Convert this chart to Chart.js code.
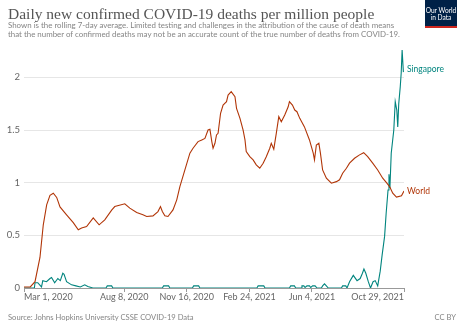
<!DOCTYPE html>
<html>
<head>
<meta charset="utf-8">
<script src="https://cdn.jsdelivr.net/npm/chart.js@4.4.0/dist/chart.umd.min.js"></script>
<style>
  html, body { margin: 0; padding: 0; background: #fff; }
  #wrap { position: relative; width: 466px; height: 329px; overflow: hidden; font-family: Lato, sans-serif; }
  #c { position: absolute; left: 0; top: 0; }
  .title { position: absolute; left: 8px; top: 5px; font-family: "Liberation Serif", serif; font-size: 15.5px; color: #555; white-space: nowrap; }
  .sub { position: absolute; left: 8px; top: 21px; font-size: 7.9px; line-height: 9px; color: #858585; white-space: nowrap; }
  .logo { position: absolute; left: 425px; top: 0; width: 32px; background: #002147; border-bottom: 2px solid #ce261e;
          color: #fff; font-size: 6.6px; line-height: 6.8px; text-align: center; padding-top: 7px; box-sizing: border-box; height: 28px; }
  .src { position: absolute; left: 8px; top: 312px; font-size: 7.6px; color: #858585; white-space: nowrap; }
  .cc { position: absolute; right: 10px; top: 312px; font-size: 7.6px; color: #858585; }
</style>
</head>
<body>
<div id="wrap">
  <canvas id="c" width="466" height="329"></canvas>
  <div class="title">Daily new confirmed COVID-19 deaths per million people</div>
  <div class="sub">Shown is the rolling 7-day average. Limited testing and challenges in the attribution of the cause of death means<br>that the number of confirmed deaths may not be an accurate count of the true number of deaths from COVID-19.</div>
  <div class="logo">Our World<br>in Data</div>
  <div class="src">Source: Johns Hopkins University CSSE COVID-19 Data</div>
  <div class="cc">CC BY</div>
</div>
<script>
// days counted from Mar 1, 2020
var START = Date.UTC(2020, 2, 1);
var xTicks = [0, 160, 260, 360, 460, 607];
var yTicks = [0, 0.5, 1, 1.5, 2];

var worldDays = [0, 10, 17.6, 25.5, 30.8, 36.2, 41.5, 46.8, 52.2, 57.5, 68, 78.7, 86.7, 92, 100, 110.6,
    120, 129, 140, 145, 161, 169, 180, 190, 196, 206, 214, 218, 221, 225, 230, 238, 244, 249, 257, 265,
    270, 278, 284, 289, 294, 297, 300, 302, 305, 307.5, 310, 314, 318, 323.5, 326, 331, 337, 339.5, 345,
    350, 353, 355, 360.7, 366, 371, 376.6, 382, 387, 392.6, 395, 399, 403, 407, 411, 416.5, 422, 424,
    428.8, 432.5, 436, 440.5, 448, 456, 462, 464, 467, 471, 473.5, 477, 483, 491, 499, 504, 509, 515,
    520, 528, 536, 542.6, 549, 557, 565, 573, 579, 584, 589, 595, 603, 607];
var worldVals = [0.01, 0.01, 0.06, 0.29, 0.60, 0.79, 0.88, 0.90, 0.86, 0.77, 0.695, 0.62, 0.553, 0.57, 0.584, 0.665,
    0.60, 0.647, 0.74, 0.773, 0.80, 0.758, 0.717, 0.695, 0.679, 0.685, 0.726, 0.773, 0.726, 0.685, 0.679, 0.742, 0.837, 0.963, 1.121, 1.28,
    1.327, 1.39, 1.406, 1.42, 1.50, 1.507, 1.39, 1.327, 1.374, 1.453, 1.469, 1.659, 1.737, 1.769, 1.832, 1.864, 1.816, 1.706, 1.611,
    1.50, 1.406, 1.295, 1.247, 1.216, 1.169, 1.137, 1.185, 1.247, 1.327, 1.374, 1.318, 1.469, 1.627, 1.579, 1.643, 1.721, 1.769,
    1.737, 1.69, 1.674, 1.611, 1.53, 1.406, 1.28, 1.216, 1.358, 1.374, 1.28, 1.121, 1.043, 0.995, 1.01, 1.027, 1.09, 1.137,
    1.185, 1.232, 1.264, 1.285, 1.247, 1.185, 1.121, 1.043, 1.001, 0.963, 0.90, 0.863, 0.875, 0.92];

var sgDays = [0, 16.6, 17.6, 22, 25, 28, 30, 36, 41.5, 44, 49, 54, 58, 62, 64, 68, 76, 83, 90, 97, 102, 110,
    131, 133, 140, 142, 221, 223, 231, 233, 269, 271, 279, 281, 372, 374, 383, 385, 424, 426, 432, 434,
    443, 444, 447, 449, 452, 456, 458, 461, 465, 468, 475, 477, 480, 483, 486, 507, 509, 514, 516,
    520, 526, 532, 537, 540.6, 543, 546, 550, 553.5, 557.6, 561, 565, 569, 572, 576, 578.5, 581.5, 583,
    584.5, 586.6, 590.7, 593, 595.5, 597, 598.6, 601, 602.5, 604, 606];
var sgVals = [0, 0, 0.05, 0.05, 0.03, 0.01, 0.07, 0.06, 0.09, 0.10, 0.05, 0.09, 0.07, 0.14, 0.13, 0.06, 0.03, 0.02, 0.01, 0.03, 0.015, 0,
    0, 0.02, 0.02, 0, 0, 0.02, 0.02, 0, 0, 0.02, 0.02, 0, 0, 0.02, 0.02, 0, 0, 0.02, 0.02, 0,
    0, 0.02, 0.02, 0.005, 0.02, 0.02, 0.005, 0.02, 0.02, 0, 0, 0.02, 0.04, 0.02, 0, 0, 0.02, 0.02, 0,
    0.06, 0.12, 0.07, 0.09, 0.14, 0.18, 0.14, 0.06, 0, 0.06, 0.07, 0.02, 0.16, 0.31, 0.49, 0.71, 0.93, 1.08,
    0.95, 1.28, 1.5, 1.77, 1.69, 1.53, 1.75, 1.91, 2.04, 2.26, 2.05];

var worldColor = '#b13507';
var sgColor = '#00847e';
var months = ['Jan', 'Feb', 'Mar', 'Apr', 'May', 'Jun', 'Jul', 'Aug', 'Sep', 'Oct', 'Nov', 'Dec'];

function dayLabel(d) {
    var dt = new Date(START + d * 86400000);
    return months[dt.getUTCMonth()] + ' ' + dt.getUTCDate() + ', ' + dt.getUTCFullYear();
}

function toPoints(days, vals) {
    return days.map(function(d, i) { return {x: d, y: vals[i]}; });
}

// x labels: first left-aligned, last right-aligned; line names at series end
var labelPlugin = {
    id: 'owidLabels',
    afterDraw: function(chart) {
        var ctx = chart.ctx;
        var xs = chart.scales.x;
        var ys = chart.scales.y;
        ctx.save();
        ctx.font = '9px Lato';
        ctx.fillStyle = '#666';
        ctx.textBaseline = 'middle';
        xTicks.forEach(function(t, i) {
            ctx.textAlign = i === 0 ? 'left' : (i === xTicks.length - 1 ? 'right' : 'center');
            ctx.fillText(dayLabel(t), xs.getPixelForValue(t), 297.5);
        });
        ctx.font = '8.5px Lato';
        ctx.textAlign = 'left';
        var x0 = xs.getPixelForValue(607) + 3;
        ctx.fillStyle = sgColor;
        ctx.fillText('Singapore', x0, ys.getPixelForValue(sgVals[sgVals.length - 1]) - 3);
        ctx.fillStyle = worldColor;
        ctx.fillText('World', x0, ys.getPixelForValue(worldVals[worldVals.length - 1]));
        ctx.restore();
    }
};

new Chart(document.getElementById('c'), {
    type: 'line',
    data: {
        datasets: [{
            label: 'World',
            data: toPoints(worldDays, worldVals),
            borderColor: worldColor,
            borderWidth: 1.1,
            pointRadius: 0,
            tension: 0
        }, {
            label: 'Singapore',
            data: toPoints(sgDays, sgVals),
            borderColor: sgColor,
            borderWidth: 1.1,
            pointRadius: 0,
            tension: 0
        }]
    },
    options: {
        responsive: false,
        animation: false,
        layout: { padding: { top: 50, right: 62, left: 0, bottom: 0 } },
        plugins: { legend: { display: false }, tooltip: { enabled: false } },
        scales: {
            x: {
                type: 'linear',
                min: 0,
                max: 607,
                afterBuildTicks: function(scale) {
                    scale.ticks = xTicks.map(function(v) { return {value: v}; });
                },
                afterFit: function(scale) { scale.height = 41; },
                ticks: { display: false },
                grid: { drawOnChartArea: false, drawTicks: true, tickLength: 4, color: '#999' },
                border: { display: true, color: '#999' }
            },
            y: {
                min: 0,
                max: 2.26,
                afterBuildTicks: function(scale) {
                    scale.ticks = yTicks.map(function(v) { return {value: v}; });
                },
                afterFit: function(scale) { scale.width = 24; },
                ticks: {
                    font: { family: 'Lato', size: 9.5 },
                    color: '#666',
                    padding: 4,
                    callback: function(v) { return String(v); }
                },
                grid: { color: '#e6e6e6', drawTicks: false },
                border: { display: false }
            }
        }
    },
    plugins: [labelPlugin]
});
</script>
</body>
</html>
